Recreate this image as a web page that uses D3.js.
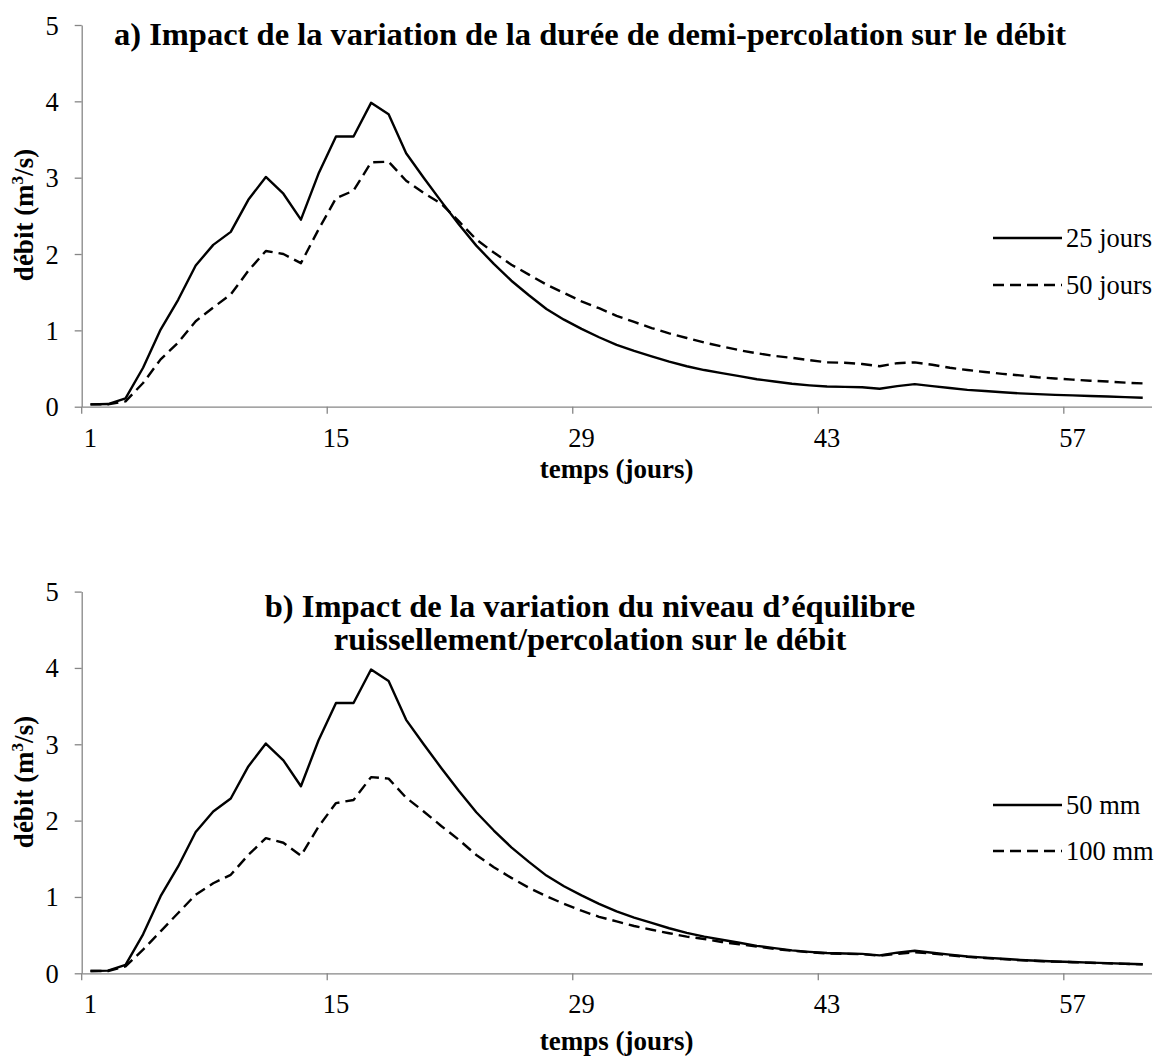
<!DOCTYPE html>
<html>
<head>
<meta charset="utf-8">
<script src="https://cdn.jsdelivr.net/npm/d3@7"></script>
<style>
  html, body { margin: 0; padding: 0; background: #fff; }
  svg text { font-family: "Liberation Serif", "Times New Roman", serif; fill: #000; }
</style>
</head>
<body>
<svg id="chart" width="1159" height="1057"></svg>
<script>
// ---- data ----
const days = d3.range(1, 62);
const tickDays = [1, 15, 29, 43, 57];
const yTicks = [0, 1, 2, 3, 4, 5];

const q25jours = [0.03,0.035,0.11,0.51,1.01,1.40,1.85,2.12,2.29,2.71,3.01,2.79,2.45,3.05,3.54,3.54,3.98,3.83,3.32,3.00,
  2.69,2.39,2.11,1.87,1.65,1.46,1.28,1.14,1.02,0.91,0.81,0.73,0.66,0.59,0.53,0.48,0.44,0.40,0.36,0.33,
  0.30,0.28,0.265,0.26,0.255,0.235,0.27,0.295,0.27,0.245,0.22,0.205,0.19,0.175,0.165,0.155,0.148,0.14,0.133,0.126,0.118];
const q50jours = [0.03,0.03,0.07,0.31,0.62,0.84,1.12,1.30,1.47,1.78,2.04,2.00,1.88,2.32,2.73,2.83,3.20,3.21,2.96,2.80,
  2.66,2.43,2.19,2.02,1.86,1.73,1.60,1.49,1.38,1.29,1.19,1.11,1.03,0.96,0.90,0.84,0.79,0.74,0.70,0.665,
  0.64,0.61,0.58,0.575,0.56,0.53,0.57,0.58,0.55,0.51,0.48,0.455,0.43,0.41,0.385,0.37,0.355,0.34,0.33,0.315,0.305];
const q50mm = [0.03,0.035,0.11,0.51,1.01,1.40,1.85,2.12,2.29,2.71,3.01,2.79,2.45,3.05,3.54,3.54,3.98,3.83,3.32,3.00,
  2.69,2.39,2.11,1.87,1.65,1.46,1.28,1.14,1.02,0.91,0.81,0.73,0.66,0.59,0.53,0.48,0.44,0.40,0.36,0.33,
  0.30,0.28,0.265,0.26,0.255,0.235,0.27,0.295,0.27,0.245,0.22,0.205,0.19,0.175,0.165,0.155,0.148,0.14,0.133,0.126,0.118];
const q100mm = [0.03,0.03,0.09,0.31,0.55,0.79,1.03,1.18,1.29,1.55,1.77,1.71,1.54,1.92,2.23,2.27,2.57,2.55,2.30,2.12,
  1.93,1.75,1.55,1.39,1.25,1.12,1.01,0.91,0.82,0.74,0.68,0.62,0.57,0.525,0.48,0.45,0.41,0.38,0.35,0.32,
  0.295,0.275,0.26,0.255,0.25,0.23,0.255,0.275,0.26,0.235,0.215,0.2,0.185,0.172,0.162,0.153,0.145,0.138,0.131,0.124,0.117];

const panels = [
  { title: ["a) Impact de la variation de la durée de demi-percolation sur le débit"],
    titleY: [45], y0: 406.7, y5: 25, xLabY: 447, xTitleY: 478, yTitleCY: 215,
    legendY: [238, 285],
    series: [{ name: "25 jours", values: q25jours, dash: null },
             { name: "50 jours", values: q50jours, dash: "11,6" }] },
  { title: ["b) Impact de la variation du niveau d’équilibre", "ruissellement/percolation sur le débit"],
    titleY: [617, 650], y0: 973.3, y5: 591.6, xLabY: 1013, xTitleY: 1050, yTitleCY: 782,
    legendY: [805, 851],
    series: [{ name: "50 mm", values: q50mm, dash: null },
             { name: "100 mm", values: q100mm, dash: "11,6" }] }
];

const FONT = "Liberation Serif";
const svg = d3.select("#chart");
const left = 81.7, right = 1151.5;
const x = d3.scaleBand().domain(days).range([left, right]).paddingInner(0).paddingOuter(0);
const bw = x.bandwidth();
const axisColor = "#868686";

panels.forEach(p => {
  const y = d3.scaleLinear().domain([0, 5]).range([p.y0, p.y5]);
  const g = svg.append("g");

  // y axis
  const ya = g.append("g").attr("transform", `translate(${left},0)`)
    .call(d3.axisLeft(y).tickValues(yTicks).tickSize(7).tickSizeOuter(0).tickPadding(16).tickFormat(d3.format("d")));
  ya.attr("font-family", FONT);
  ya.select(".domain").attr("stroke", axisColor).attr("stroke-width", 1.3);
  ya.selectAll(".tick line").attr("stroke", axisColor).attr("stroke-width", 1.3);
  ya.selectAll(".tick text").attr("font-size", 26.5).attr("font-family", FONT).attr("dy", "0.34em");

  // x axis (ticks at category boundaries, labels at centre)
  const xa = g.append("g").attr("transform", `translate(0,${p.y0})`)
    .call(d3.axisBottom(x).tickValues(tickDays).tickSize(7).tickSizeOuter(0).tickPadding(0));
  xa.attr("font-family", FONT);
  xa.select(".domain").attr("stroke", axisColor).attr("stroke-width", 1.3);
  xa.selectAll(".tick line").attr("stroke", axisColor).attr("stroke-width", 1.3)
    .attr("x1", -bw / 2).attr("x2", -bw / 2);
  xa.selectAll(".tick text").attr("font-size", 26.5).attr("font-family", FONT)
    .attr("y", p.xLabY - p.y0).attr("dy", 0);

  // axis titles
  g.append("text").attr("x", (left + right) / 2).attr("y", p.xTitleY)
    .attr("text-anchor", "middle").attr("font-size", 27).attr("font-weight", "bold")
    .attr("font-family", FONT).text("temps (jours)");
  const yt = g.append("text").attr("transform", `translate(33,${p.yTitleCY}) rotate(-90)`)
    .attr("text-anchor", "middle").attr("font-size", 27).attr("font-weight", "bold")
    .attr("font-family", FONT);
  yt.append("tspan").text("débit (m");
  yt.append("tspan").text("3").attr("font-size", 17).attr("dy", -10);
  yt.append("tspan").text("/s)").attr("dy", 10);

  // title
  p.title.forEach((t, i) => {
    g.append("text").attr("x", 590).attr("y", p.titleY[i]).attr("text-anchor", "middle")
      .attr("font-size", 32.5).attr("font-weight", "bold").attr("font-family", FONT).text(t);
  });

  // lines
  const line = d3.line().x((d, i) => x(days[i]) + bw / 2).y(d => y(d));
  p.series.forEach(s => {
    g.append("path").datum(s.values).attr("d", line).attr("fill", "none")
      .attr("stroke", "#000").attr("stroke-width", 2.4)
      .attr("stroke-linejoin", "round")
      .attr("stroke-dasharray", s.dash);
  });

  // legend
  p.series.forEach((s, i) => {
    const ly = p.legendY[i];
    g.append("line").attr("x1", 993).attr("x2", 1062).attr("y1", ly).attr("y2", ly)
      .attr("stroke", "#000").attr("stroke-width", 2.4).attr("stroke-dasharray", s.dash);
    g.append("text").attr("x", 1066).attr("y", ly + 9).attr("font-size", 26.5)
      .attr("font-family", FONT).text(s.name);
  });
});
</script>
</body>
</html>
